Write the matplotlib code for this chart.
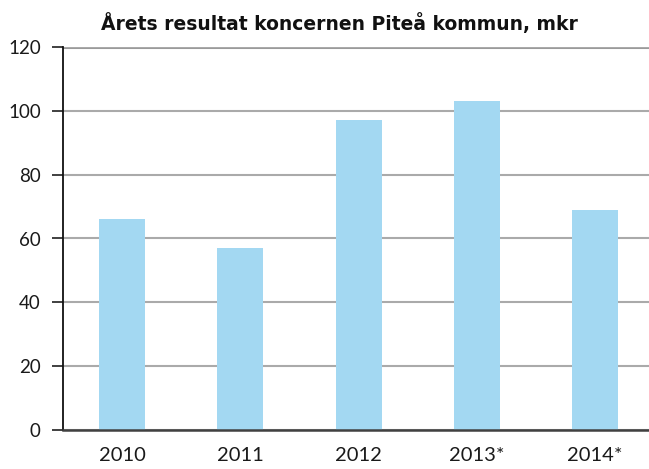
import matplotlib
matplotlib.use("Agg")
import matplotlib.pyplot as plt

years = ["2010", "2011", "2012", "2013*", "2014*"]
values = [66, 57, 97, 103, 69]
yticks = [0, 20, 40, 60, 80, 100, 120]
title = "Årets resultat koncernen Piteå kommun, mkr"

plt.rcParams['font.family'] = ['Lato', 'DejaVu Sans']

fig = plt.figure(figsize=(6.49, 4.69), dpi=100)
ax = fig.add_axes([63/649, (469-430)/469, (649-63)/649, (430-47)/469])

x = list(range(len(years)))
ax.bar(x, values, width=0.39, color="#a3d8f2", zorder=3)

ax.set_xlim(-0.5, 4.455)
ax.set_ylim(0, 120)
ax.set_yticks(yticks)
ax.set_yticklabels([str(v) for v in yticks], fontsize=13.5, color="#1a1a1a")
ax.set_xticks(x)
ax.set_xticklabels(years, fontsize=14.5, color="#1a1a1a")

ax.grid(axis="y", color="#aaaaaa", linewidth=1.5, zorder=0)
ax.axhline(120, color="#9a9a9a", linewidth=2.2, zorder=1)
ax.tick_params(axis="y", direction="out", length=8, width=1.2, color="#202020", pad=8)
ax.tick_params(axis="x", length=0, pad=12)

for s in ["top", "right"]:
    ax.spines[s].set_visible(False)
ax.spines["left"].set_color("#101010")
ax.spines["left"].set_linewidth(1.3)
ax.spines["bottom"].set_color("#404040")
ax.spines["bottom"].set_linewidth(1.8)
ax.spines["bottom"].set_zorder(4)

fig.text(339/649, 1 - 24/469, title, ha="center", va="center",
         fontsize=13.5, fontweight="bold", family="DejaVu Sans", color="#111111")

fig.savefig("out.png", dpi=100)
